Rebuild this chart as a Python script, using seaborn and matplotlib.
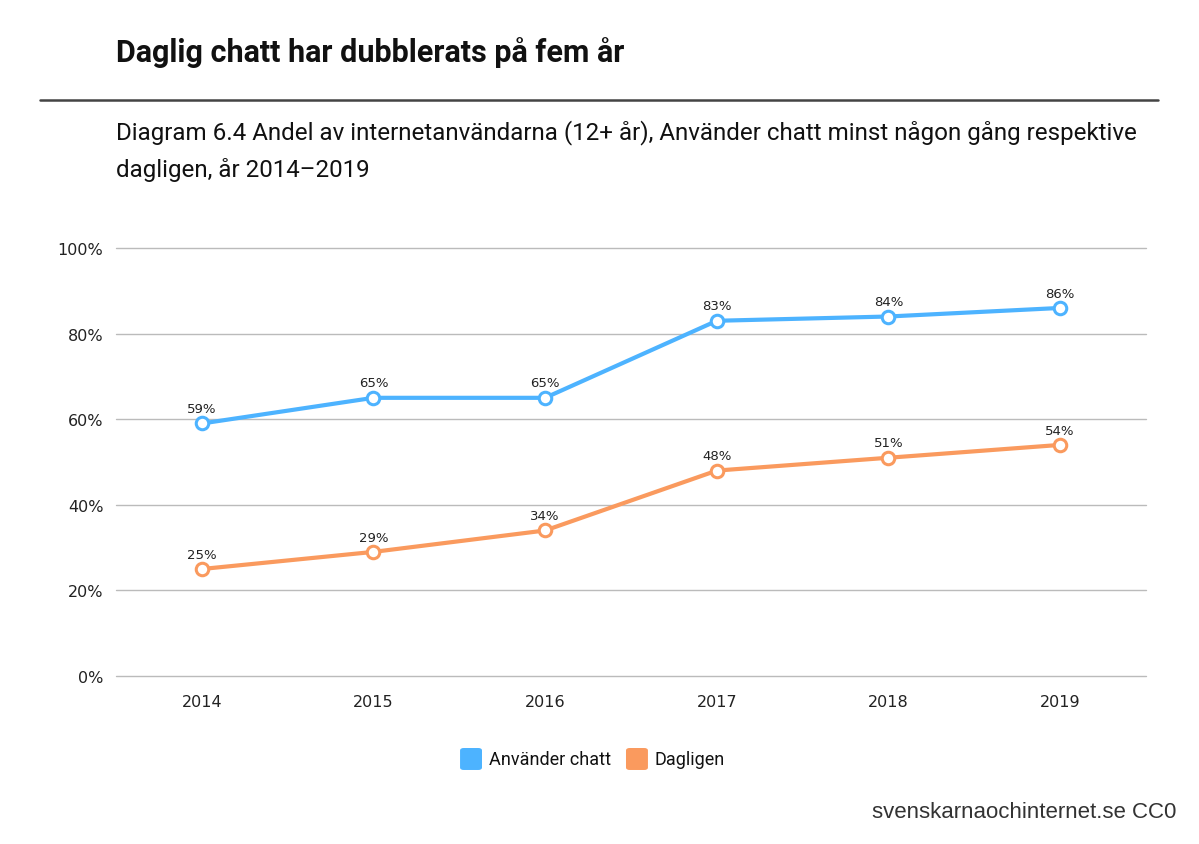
import numpy as np
import pandas as pd
import matplotlib.pyplot as plt
import seaborn as sns
from matplotlib.patches import FancyBboxPatch

# ==========================================
# Data
# ==========================================

years = ["2014", "2015", "2016", "2017", "2018", "2019"]
anvander_chatt = [59, 65, 65, 83, 84, 86]
dagligen = [25, 29, 34, 48, 51, 54]

series_names = ["Använder chatt", "Dagligen"]
colors = ["#4DB3FF", "#FA9A5E"]

df = pd.DataFrame({
    "year": years * 2,
    "value": anvander_chatt + dagligen,
    "series": [series_names[0]] * len(years) + [series_names[1]] * len(years),
})
df["pos"] = df["year"].map({y: i for i, y in enumerate(years)})

# ==========================================
# Plot
# ==========================================

sns.set_style("white")
plt.rcParams["font.family"] = ["Roboto", "DejaVu Sans"]

fig = plt.figure(figsize=(11.99, 8.45), dpi=100)
ax = fig.add_axes([0.0967, 0.1988, 0.8591, 0.5065])

sns.lineplot(
    data=df,
    x="pos",
    y="value",
    hue="series",
    palette=colors,
    linewidth=3,
    marker="o",
    markersize=9,
    markerfacecolor="white",
    markeredgewidth=2.2,
    legend=False,
    ax=ax,
)
# marker edges follow line colour
for line, c in zip(ax.get_lines(), colors):
    line.set_markeredgecolor(c)

# data labels
for vals in [anvander_chatt, dagligen]:
    for i, v in enumerate(vals):
        ax.annotate(f"{v}%", (i, v), xytext=(0, 6), textcoords="offset points",
                    ha="center", va="bottom", fontsize=9.5, color="#222222",
                    family=["DejaVu Sans"])

ax.set_xlim(-0.5, len(years) - 0.5)
ax.set_ylim(0, 100)
ax.set_xticks(range(len(years)))
ax.set_xticklabels(years)
ax.set_yticks([0, 20, 40, 60, 80, 100])
ax.set_yticklabels([f"{t}%" for t in [0, 20, 40, 60, 80, 100]])
ax.tick_params(axis="both", length=0, labelsize=11.5, colors="#222222", pad=9)
ax.tick_params(axis="x", pad=13)
for lab in ax.get_xticklabels() + ax.get_yticklabels():
    lab.set_family("DejaVu Sans")
ax.set_xlabel("")
ax.set_ylabel("")
ax.grid(axis="y", color="#BBBBBB", linewidth=1)
for gl in ax.get_ygridlines():
    gl.set_clip_on(False)
ax.set_axisbelow(True)
sns.despine(ax=ax, left=True, bottom=True, top=True, right=True)

# ==========================================
# Titles, rule, legend, footer
# ==========================================

fig.text(0.0967, 0.938, "Daglig chatt har dubblerats på fem år",
         fontsize=22, fontweight="bold", color="#111111", va="center")
fig.add_artist(plt.Line2D([0.033, 0.966], [0.881, 0.881],
                          color="#444444", linewidth=1.8))
fig.text(0.0967, 0.843,
         "Diagram 6.4 Andel av internetanvändarna (12+ år), Använder chatt minst någon gång respektive",
         fontsize=17.4, color="#111111", va="center")
fig.text(0.0967, 0.799, "dagligen, år 2014–2019",
         fontsize=17.4, color="#111111", va="center")

# legend with rounded squares
leg_y = 0.1006
items = [(0.3837, series_names[0], colors[0]), (0.5221, series_names[1], colors[1])]
for x0, name, c in items:
    fig.add_artist(FancyBboxPatch((x0, leg_y - 0.013), 0.0183, 0.026,
                                  boxstyle="round,pad=0,rounding_size=0.003",
                                  transform=fig.transFigure, facecolor=c,
                                  edgecolor="none"))
    fig.text(x0 + 0.0241, leg_y, name, fontsize=13, color="#111111",
             va="center")

fig.text(0.981, 0.038, "svenskarnaochinternet.se CC0", fontsize=16,
         color="#333333", ha="right", va="center", family=["Liberation Sans"])

fig.savefig("out.png", dpi=100)
